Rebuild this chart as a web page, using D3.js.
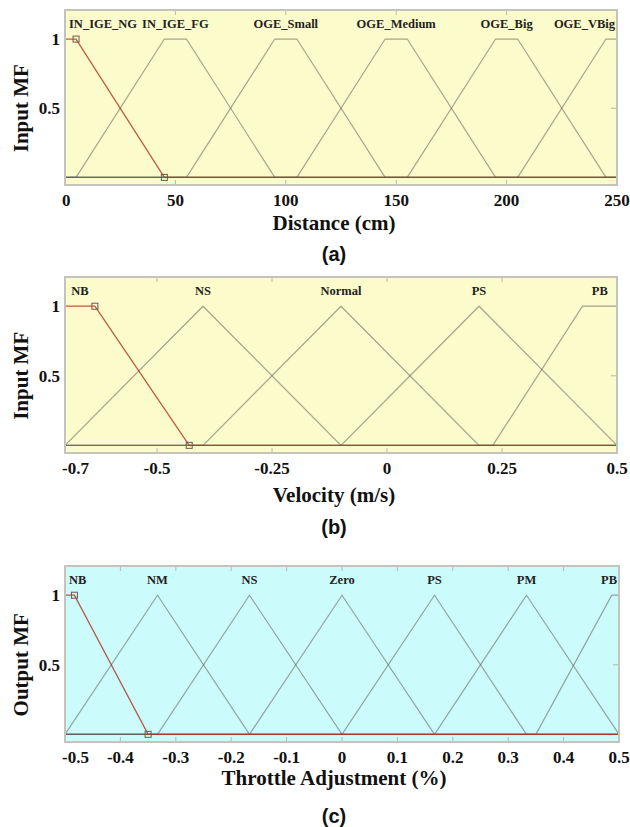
<!DOCTYPE html>
<meta charset="utf-8">
<style>
body { margin: 0; background: #fff; }
.frame { fill: none; stroke: #c4c4bc; stroke-width: 2px; }
.tick { stroke: #b8b8b0; stroke-width: 1px; }
.mf { fill: none; stroke: rgba(95, 95, 90, 0.55); stroke-width: 1.2px; }
.sel { fill: none; stroke: rgba(175, 50, 30, 0.8); stroke-width: 1.3px; }
.marker { fill: none; stroke: #6a5a50; stroke-width: 1px; }
.mflabel { font-family: "Liberation Serif", serif; font-weight: bold; font-size: 12.5px; fill: #222; }
.ticklabel { font-family: "Liberation Serif", serif; font-weight: bold; font-size: 17px; fill: #111; }
.title { font-family: "Liberation Serif", serif; font-weight: bold; font-size: 21px; fill: #111; }
.sub { font-family: "Liberation Sans", Arial, sans-serif; font-weight: bold; font-size: 20px; fill: #111; }
</style>
<body>
<script src="https://cdn.jsdelivr.net/npm/d3@7"></script>
<script>
var width = 630,
    height = 827;

// (a) distance input
var distanceTicks = [0, 50, 100, 150, 200, 250];
var distanceNames = ["IN_IGE_NG", "IN_IGE_FG", "OGE_Small", "OGE_Medium", "OGE_Big", "OGE_VBig"];
var distanceParams = [[0, 0, 5, 45], [5, 45, 55, 95], [55, 95, 105, 145],
                      [105, 145, 155, 195], [155, 195, 205, 245], [205, 245, 250, 250]];

// (b) velocity input
var velocityTicks = [-0.7, -0.5, -0.25, 0, 0.25, 0.5];
var velocityNames = ["NB", "NS", "Normal", "PS", "PB"];
var velocityParams = [[-0.7, -0.7, -0.635, -0.43], [-0.7, -0.4, -0.4, -0.1], [-0.4, -0.1, -0.1, 0.2],
                      [-0.1, 0.2, 0.2, 0.5], [0.23, 0.425, 0.5, 0.5]];

// (c) throttle output
var throttleTicks = [-0.5, -0.4, -0.3, -0.2, -0.1, 0, 0.1, 0.2, 0.3, 0.4, 0.5];
var throttleNames = ["NB", "NM", "NS", "Zero", "PS", "PM", "PB"];
var throttleParams = [[-0.5, -0.5, -0.483, -0.35], [-0.5, -0.333, -0.333, -0.167], [-0.333, -0.167, -0.167, 0],
                      [-0.167, 0, 0, 0.167], [0, 0.167, 0.167, 0.333], [0.167, 0.333, 0.333, 0.5],
                      [0.35, 0.487, 0.5, 0.5]];

var yTicks = [0.5, 1];
var yTickLabels = ["0.5", "1"];

var panels = [
  {ticks: distanceTicks, names: distanceNames, params: distanceParams,
   xlabel: "Distance (cm)", ylabel: "Input MF", sub: "(a)", bg: "#fcfbcb",
   left: 65, right: 617, top: 10, bottom: 185, titleDy: 45, subY: 261},
  {ticks: velocityTicks, names: velocityNames, params: velocityParams,
   xlabel: "Velocity (m/s)", ylabel: "Input MF", sub: "(b)", bg: "#fcfbcb",
   left: 65, right: 617, top: 277, bottom: 453, titleDy: 49, subY: 534},
  {ticks: throttleTicks, names: throttleNames, params: throttleParams,
   xlabel: "Throttle Adjustment (%)", ylabel: "Output MF", sub: "(c)", bg: "#cbfbfb",
   left: 65, right: 619, top: 566, bottom: 742, titleDy: 43, subY: 823}
];

function trap(p) {
  return function(x) {
    if (x < p[0]) return 0;
    if (x < p[1]) return (x - p[0]) / (p[1] - p[0]);
    if (x <= p[2]) return 1;
    if (x < p[3]) return (p[3] - x) / (p[3] - p[2]);
    return 0;
  };
}

var svg = d3.select("body").append("svg")
    .attr("width", width)
    .attr("height", height);

panels.forEach(function(P) {
  var lo = P.ticks[0], hi = P.ticks[P.ticks.length - 1];
  var x = d3.scaleLinear().domain([lo, hi]).range([P.left, P.right]);
  var y = d3.scaleLinear().domain([-0.055, 1.21]).range([P.bottom, P.top]);
  var g = svg.append("g");

  g.append("rect")
      .attr("x", P.left).attr("y", P.top)
      .attr("width", P.right - P.left).attr("height", P.bottom - P.top)
      .attr("fill", P.bg);

  // inner tick marks, top and bottom
  P.ticks.slice(1, -1).forEach(function(t) {
    g.append("line").attr("class", "tick")
        .attr("x1", x(t)).attr("x2", x(t)).attr("y1", P.bottom).attr("y2", P.bottom - 5);
    g.append("line").attr("class", "tick")
        .attr("x1", x(t)).attr("x2", x(t)).attr("y1", P.top).attr("y2", P.top + 5);
  });
  g.append("line").attr("class", "tick")
      .attr("x1", P.right).attr("x2", P.right - 6).attr("y1", y(0.5)).attr("y2", y(0.5));

  var line = d3.line().x(function(d) { return x(d[0]); }).y(function(d) { return y(d[1]); });

  function pts(p) {
    var f = trap(p);
    var xs = [lo, p[0], p[1], p[2], p[3], hi]
      .map(function(v) { return Math.max(lo, Math.min(hi, v)); });
    return xs.map(function(v) { return [v, f(v)]; });
  }

  P.params.forEach(function(p, i) {
    if (i === 0) return;
    g.append("path").attr("class", "mf").attr("d", line(pts(p)));
  });
  var s = P.params[0];
  g.append("path").attr("class", "sel").attr("d", line(pts(s)));
  [[s[2], 1], [s[3], 0]].forEach(function(d) {
    g.append("rect").attr("class", "marker")
        .attr("x", x(d[0]) - 3).attr("y", y(d[1]) - 3)
        .attr("width", 6).attr("height", 6);
  });

  // MF names, centred on the plateau and kept inside the frame
  P.names.forEach(function(n, i) {
    var p = P.params[i];
    var t = g.append("text").attr("class", "mflabel")
        .attr("y", y(1) - 11).attr("text-anchor", "middle").text(n);
    var w = t.node().getComputedTextLength();
    var cx = x((p[1] + p[2]) / 2);
    cx = Math.max(P.left + 4 + w / 2, Math.min(P.right - 2 - w / 2, cx));
    t.attr("x", cx);
  });

  g.append("rect").attr("class", "frame")
      .attr("x", P.left).attr("y", P.top)
      .attr("width", P.right - P.left).attr("height", P.bottom - P.top);

  // x tick labels
  P.ticks.forEach(function(t) {
    var tx = g.append("text").attr("class", "ticklabel")
        .attr("y", P.bottom + 21).attr("text-anchor", "middle").text(String(t));
    var w = tx.node().getComputedTextLength();
    tx.attr("x", Math.max(P.left - 3 + w / 2, x(t)));
  });

  // y tick labels
  yTicks.forEach(function(t, i) {
    g.append("text").attr("class", "ticklabel")
        .attr("x", P.left - 5).attr("y", y(t) + 6)
        .attr("text-anchor", "end").text(yTickLabels[i]);
  });

  g.append("text").attr("class", "title")
      .attr("x", 334).attr("y", P.bottom + P.titleDy)
      .attr("text-anchor", "middle").text(P.xlabel);

  g.append("text").attr("class", "title")
      .attr("transform", "translate(28," + y(0.5) + ") rotate(-90)")
      .attr("text-anchor", "middle").text(P.ylabel);

  g.append("text").attr("class", "sub")
      .attr("x", 334).attr("y", P.subY)
      .attr("text-anchor", "middle").text(P.sub);
});
</script>
</body>
